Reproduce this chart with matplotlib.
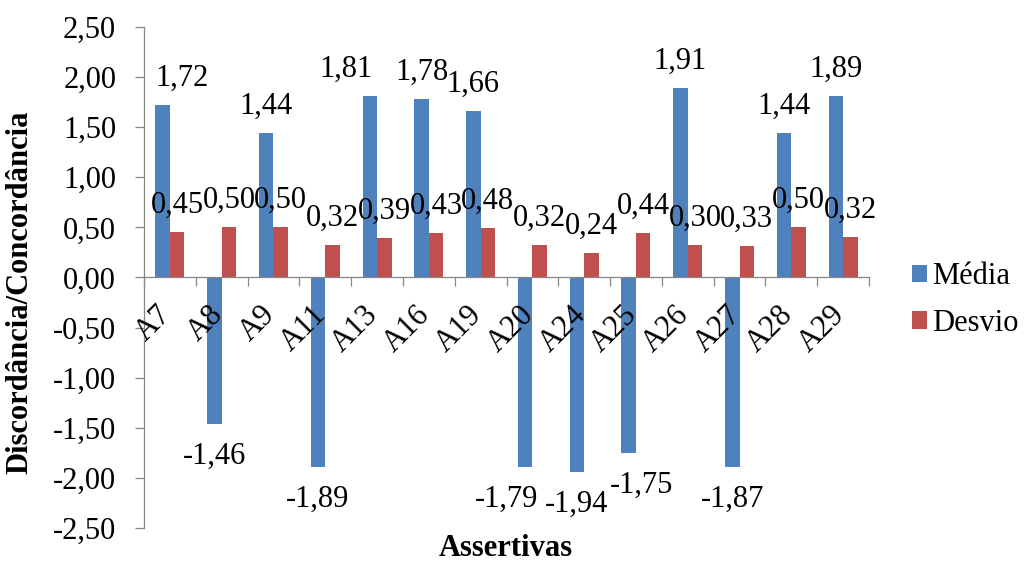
import matplotlib
matplotlib.use("Agg")
import matplotlib.pyplot as plt
from matplotlib.patches import Patch
import numpy as np

# ---------------- data ----------------
categories = ["A7", "A8", "A9", "A11", "A13", "A16", "A19",
              "A20", "A24", "A25", "A26", "A27", "A28", "A29"]
media = [1.72, -1.46, 1.44, -1.89, 1.81, 1.78, 1.66,
         -1.89, -1.94, -1.75, 1.89, -1.89, 1.44, 1.81]
desvio = [0.45, 0.50, 0.50, 0.32, 0.39, 0.44, 0.49,
          0.32, 0.24, 0.44, 0.32, 0.31, 0.50, 0.40]
media_labels = ["1,72", "-1,46", "1,44", "-1,89", "1,81", "1,78", "1,66",
                "-1,79", "-1,94", "-1,75", "1,91", "-1,87", "1,44", "1,89"]
desvio_labels = ["0,45", "0,50", "0,50", "0,32", "0,39", "0,43", "0,48",
                 "0,32", "0,24", "0,44", "0,30", "0,33", "0,50", "0,32"]
yticks = [2.5, 2.0, 1.5, 1.0, 0.5, 0.0, -0.5, -1.0, -1.5, -2.0, -2.5]
ytick_labels = ["2,50", "2,00", "1,50", "1,00", "0,50", "0,00",
                "-0,50", "-1,00", "-1,50", "-2,00", "-2,50"]
series_names = ["Média", "Desvio"]
x_title = "Assertivas"
y_title = "Discordância/Concordância"

# manual horizontal nudges (pixels) of some value labels, as in the original
media_label_nudge = {"A7": 19, "A13": -24, "A20": -19, "A25": 13}

# ---------------- style ----------------
BLUE = "#4F81BD"
RED = "#C0504D"
AXIS = "#868686"
FONT = "Liberation Serif"
FS = 22
W, H, DPI = 1027, 564, 100

plt.rcParams["font.family"] = [FONT, "DejaVu Serif"]

fig = plt.figure(figsize=(W / DPI, H / DPI), dpi=DPI)
ax = fig.add_axes([144 / W, (H - 528.3) / H, (869 - 144) / W, (528.3 - 26.7) / H])

x = np.arange(len(categories))
bw = 0.28
ax.bar(x - bw / 2, media, bw, color=BLUE, linewidth=0, zorder=2)
ax.bar(x + bw / 2, desvio, bw, color=RED, linewidth=0, zorder=2)

ax.set_xlim(-0.5, len(categories) - 0.5)
ax.set_ylim(-2.5, 2.5)

# spines
for s in ["top", "right"]:
    ax.spines[s].set_visible(False)
ax.spines["left"].set_color(AXIS)
ax.spines["bottom"].set_color(AXIS)
ax.spines["left"].set_linewidth(0.9)
ax.spines["bottom"].set_linewidth(0.9)
ax.spines["bottom"].set_position(("data", 0))

# y ticks
ax.set_yticks(yticks)
ax.set_yticklabels(ytick_labels, fontsize=FS)
ax.tick_params(axis="y", direction="out", length=6.5, width=0.9,
               color=AXIS, pad=13.5)

# x ticks: minor ticks on category boundaries, labels placed manually
ax.set_xticks(np.arange(-0.5, len(categories), 1.0), minor=True)
ax.set_xticks([])
ax.tick_params(axis="x", which="minor", direction="out", length=6.5,
               width=0.9, color=AXIS)

px = 72.0 / DPI  # points per pixel
for i, cat in enumerate(categories):
    ax.annotate(cat, xy=(i, 0), xytext=(-3 * px, -33 * px),
                textcoords="offset points", rotation=45,
                rotation_mode="anchor", ha="right", va="center",
                fontsize=FS)

# value labels
for i, (m, lab) in enumerate(zip(media, media_labels)):
    dx = media_label_nudge.get(categories[i], 0)
    dy = 27 if m >= 0 else -32
    ax.annotate(lab, xy=(i - bw / 2, m), xytext=(dx * px, dy * px),
                textcoords="offset points", ha="center", va="center",
                fontsize=FS, zorder=3)
for i, (d, lab) in enumerate(zip(desvio, desvio_labels)):
    ax.annotate(lab, xy=(i + bw / 2, d), xytext=(0, 27 * px),
                textcoords="offset points", ha="center", va="center",
                fontsize=FS, zorder=3)

# axis titles
fig.text(20 / W, 1 - 292 / H, y_title, rotation=90, ha="center",
         va="center", fontsize=FS, fontweight="bold")
fig.text(506 / W, 1 / H, x_title, ha="center", va="bottom",
         fontsize=FS, fontweight="bold")

# legend
handles = [Patch(facecolor=BLUE, edgecolor="none"),
           Patch(facecolor=RED, edgecolor="none")]
fig.legend(handles, series_names, loc="center left",
           bbox_to_anchor=(912 / W, 1 - 300 / H), frameon=False,
           fontsize=FS, handlelength=0.5, handleheight=0.5,
           handletextpad=0.15, labelspacing=0.58, borderpad=0,
           borderaxespad=0)

fig.savefig("out.png", dpi=DPI)
